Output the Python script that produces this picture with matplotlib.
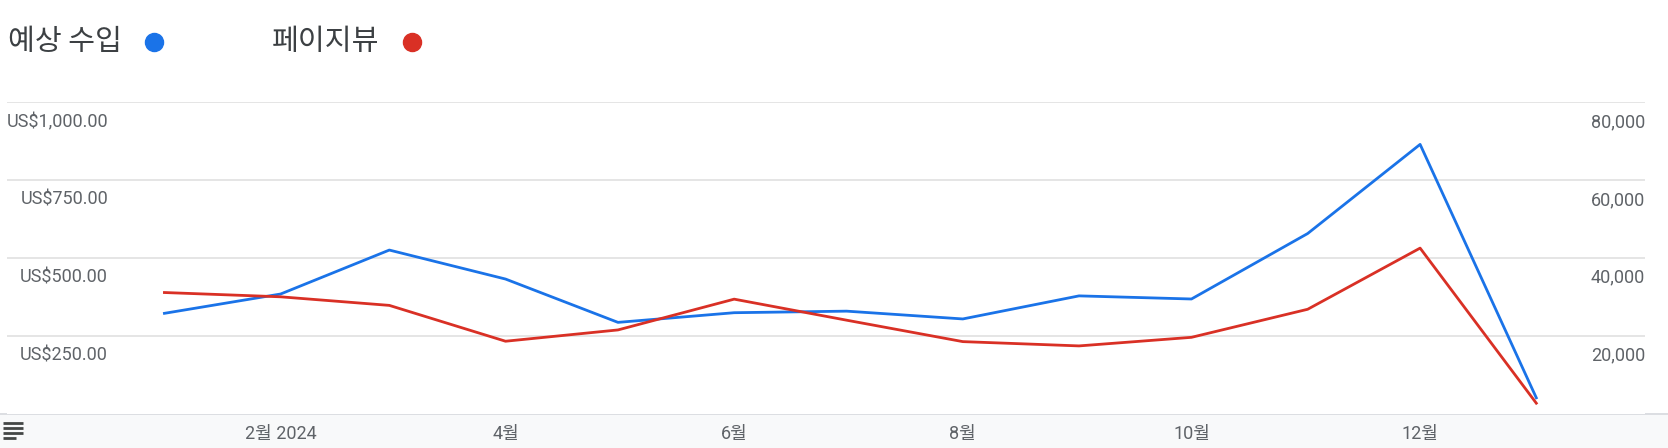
import matplotlib
matplotlib.use("Agg")
import matplotlib.pyplot as plt
import matplotlib.lines as mlines
from matplotlib.transforms import offset_copy
import pandas as pd

plt.rcParams['font.family'] = ['Roboto', 'Noto Sans CJK KR', 'DejaVu Sans']

# monthly data (Jan 2024 .. Jan 2025)
months = ['2024-01-01', '2024-02-01', '2024-03-01', '2024-04-01', '2024-05-01',
          '2024-06-01', '2024-07-01', '2024-08-01', '2024-09-01', '2024-10-01',
          '2024-11-01', '2024-12-01', '2025-01-01']
revenue = [322, 384, 525, 432, 293, 324, 329, 304, 378, 368, 578, 864, 51]
pageviews = [31100, 30000, 27800, 18600, 21500, 29400, 24000, 18500,
             17400, 19600, 26800, 42500, 2700]

series_names = ['예상 수입', '페이지뷰']
left_ticks = [250, 500, 750, 1000]
left_labels = ['US$250.00', 'US$500.00', 'US$750.00', 'US$1,000.00']
right_ticks = [20000, 40000, 60000, 80000]
right_labels = ['20,000', '40,000', '60,000', '80,000']
x_ticks = ['2024-02-01', '2024-04-01', '2024-06-01', '2024-08-01', '2024-10-01', '2024-12-01']
x_labels = ['2월 2024', '4월', '6월', '8월', '10월', '12월']

blue = '#1a73e8'
red = '#d93025'
grid_c = '#e0e0e0'
text_c = '#5f6368'

W, H = 1668, 448
fig = plt.figure(figsize=(W / 100, H / 100), dpi=100)

# grey band at the bottom (x axis area)
band = fig.add_axes([0, 0, 1, 35 / H])
band.set_xlim(0, W)
band.set_ylim(0, 35)
band.axis('off')
band.add_patch(plt.Rectangle((0, 0), W, 35, color='#f8f9fa', zorder=0))
band.axhline(34.5, color='#dadce0', lw=1.3)
# menu icon
for yy, x1 in zip([25, 20, 15, 10], [23, 23, 23, 16]):
    band.plot([3, x1], [yy, yy], color='#444746', lw=2.0, solid_capstyle='butt')

left, right = 7 / W, 1645 / W
bottom, top = (H - 413.7) / H, (H - 102) / H
ax = fig.add_axes([left, bottom, right - left, top - bottom])
ax2 = ax.twinx()

x = pd.to_datetime(months)
ax.plot(x, revenue, color=blue, lw=2.0, zorder=3)
ax2.plot(x, pageviews, color=red, lw=2.0, zorder=3)

ax.set_ylim(0, 1000)
ax2.set_ylim(0, 80000)
ax.set_xlim(pd.Timestamp('2023-11-20'), pd.Timestamp('2025-01-30'))

for a in (ax, ax2):
    for s in a.spines.values():
        s.set_visible(False)
    a.set_yticks([])

for v in left_ticks:
    ax.axhline(v, color=grid_c, lw=1.2, zorder=1)

ax.set_xticks(pd.to_datetime(x_ticks))
ax.set_xticklabels(x_labels)
ax.tick_params(axis='x', length=0, pad=8, labelsize=13, labelcolor=text_c)

# value labels sit just under each gridline
tl = offset_copy(ax.get_yaxis_transform(), fig=fig, y=-20, units='dots')
for v, lab in zip(left_ticks, left_labels):
    ax.text((108 - 7) / 1638, v, lab, transform=tl, ha='right', va='center',
            fontsize=13, color=text_c)
tr = offset_copy(ax2.get_yaxis_transform(), fig=fig, y=-20, units='dots')
for v, lab in zip(right_ticks, right_labels):
    ax2.text(1.0, v, lab, transform=tr, ha='right', va='center',
             fontsize=13, color=text_c)

# legend
leg_font = ['Noto Sans CJK KR', 'DejaVu Sans']
ly = 1 - 42.5 / H
fig.text(8 / W, ly, series_names[0], ha='left', va='center', fontsize=21,
         color='#3c4043', family=leg_font)
fig.add_artist(mlines.Line2D([154 / W], [ly], marker='o', ms=13, color=blue,
                             transform=fig.transFigure))
fig.text(272 / W, ly, series_names[1], ha='left', va='center', fontsize=21,
         color='#3c4043', family=leg_font)
fig.add_artist(mlines.Line2D([412 / W], [ly], marker='o', ms=13, color=red,
                             transform=fig.transFigure))

fig.savefig('out.png', dpi=100)
